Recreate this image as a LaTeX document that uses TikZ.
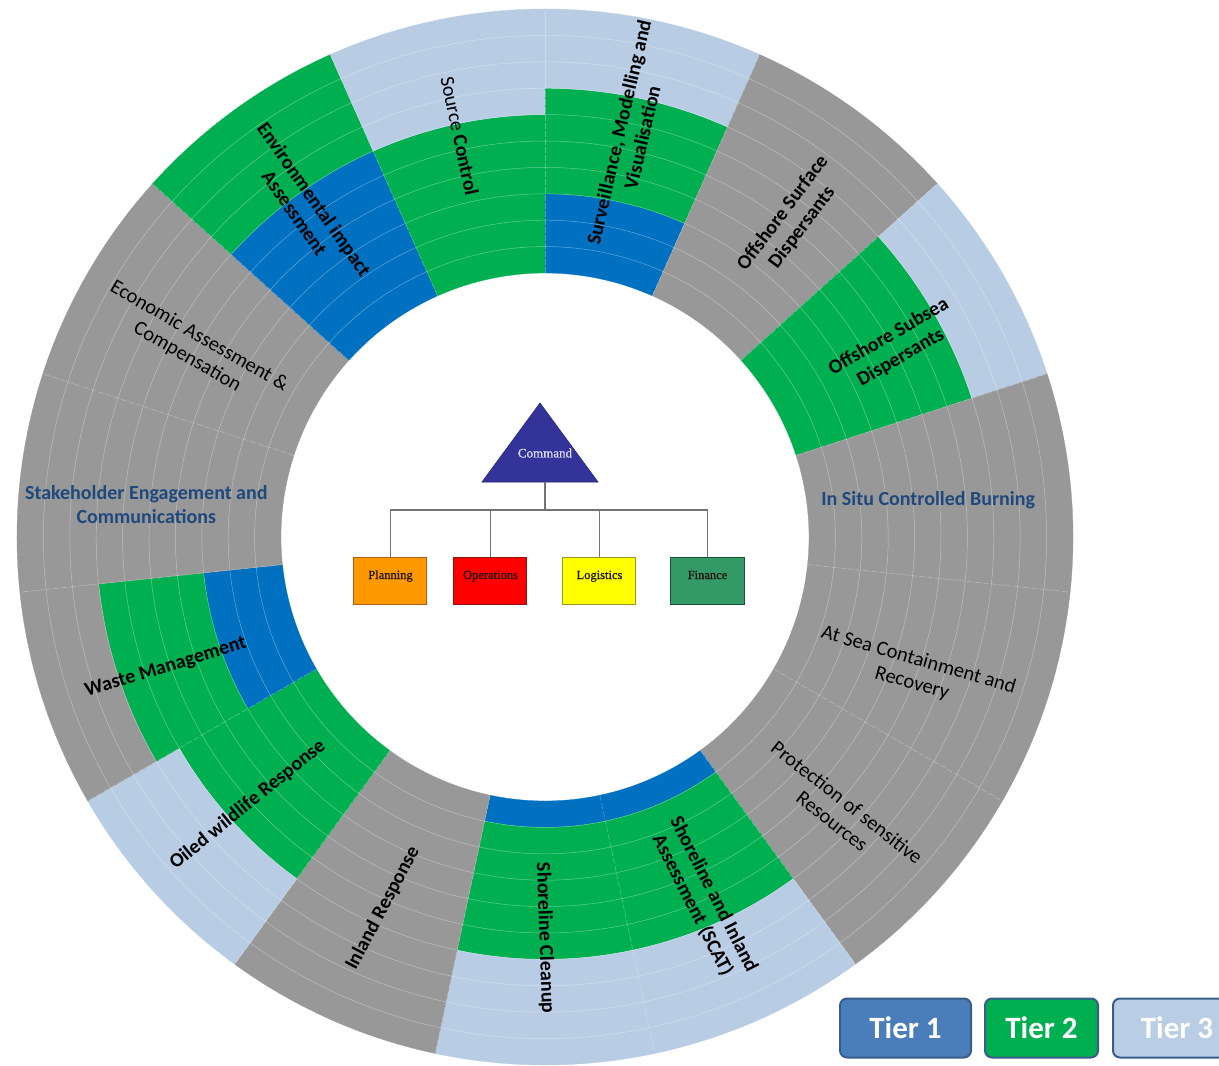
\documentclass[tikz,border=0pt]{standalone}
\usepackage{fontspec}
\setmainfont{Carlito}
\newfontfamily\orgfont[FakeBold=0.8]{Liberation Serif}
\usetikzlibrary{calc}
\definecolor{tOne}{HTML}{0070C0}
\definecolor{tTwo}{HTML}{00B050}
\definecolor{tThree}{HTML}{B8CCE4}
\definecolor{tNone}{HTML}{989898}
\definecolor{navyt}{HTML}{1F497D}
\definecolor{cmdblue}{HTML}{333399}
\definecolor{btnOne}{HTML}{4A7EBB}
\definecolor{btnEdge}{HTML}{385D8A}
\definecolor{btnThree}{HTML}{B9CDE5}
\newcommand\wseg[5]{%
  \pgfmathsetmacro\rIn{264+26.4*#3}%
  \pgfmathsetmacro\rOut{264+26.4*#4}%
  \filldraw[fill=#5,draw=#5,line width=0.3pt] (#1:\rIn pt) arc[start angle=#1,end angle=#2,radius=\rIn pt]
    -- (#2:\rOut pt) arc[start angle=#2,end angle=#1,radius=\rOut pt] -- cycle;}
\tikzset{
  lbl/.style={font=\fontsize{20}{24}\selectfont\bfseries,align=center,text=black,inner sep=0pt},
  lblr/.style={font=\fontsize{20.5}{24}\selectfont,align=center,text=black,inner sep=0pt},
  orgbox/.style={draw,line width=1pt,minimum width=73pt,minimum height=47pt,inner sep=0pt,
    font=\orgfont\fontsize{12.5}{14}\selectfont,text height=8pt,text depth=11pt,text=black!85!brown},
  tree/.style={draw=black!55,line width=1.1pt},
  tierbtn/.style={rounded corners=7pt,line width=2pt,draw=btnEdge,text=white,
    font=\fontsize{31}{33}\selectfont\bfseries,minimum height=59pt,inner sep=0pt}
}
\begin{document}
\begin{tikzpicture}[x=1pt,y=1pt]
\useasboundingbox (-545,-529) rectangle (674,537);
% ---- wheel ----
% Surveillance 66-90
\wseg{66}{90}{0}{3}{tOne}\wseg{66}{90}{3}{7}{tTwo}\wseg{66}{90}{7}{10}{tThree}
% Offshore Surface 42-66
\wseg{42}{66}{0}{10}{tNone}
% Offshore Subsea 18-42
\wseg{18}{42}{0}{7}{tTwo}\wseg{18}{42}{7}{10}{tThree}
% In Situ, At Sea, Protection
\wseg{-54}{18}{0}{10}{tNone}
% SCAT and Shoreline Cleanup
\wseg{-102}{-54}{0}{1}{tOne}\wseg{-102}{-54}{1}{6}{tTwo}\wseg{-102}{-54}{6}{10}{tThree}
% Inland
\wseg{-126}{-102}{0}{10}{tNone}
% Oiled wildlife
\wseg{-150}{-126}{0}{6}{tTwo}\wseg{-150}{-126}{6}{10}{tThree}
% Waste
\wseg{186}{210}{0}{3}{tOne}\wseg{186}{210}{3}{7}{tTwo}\wseg{186}{210}{7}{10}{tNone}
% Stakeholder, Economic
\wseg{138}{186}{0}{10}{tNone}
% Environmental impact
\wseg{114}{138}{0}{6}{tOne}\wseg{114}{138}{6}{10}{tTwo}
% Source control
\wseg{90}{114}{0}{6}{tTwo}\wseg{90}{114}{6}{10}{tThree}
% ring lines
\foreach \k [evaluate=\k as \rr using 264+26.4*\k] in {1,...,9}
  \draw[white,opacity=0.38,line width=0.5pt] (0,0) circle[radius=\rr pt];
% sector lines
\foreach \a in {-174,-150,...,162}
  \draw[white,opacity=0.3,line width=0.6pt,dash pattern=on 6pt off 2pt] (\a:264pt) -- (\a:528pt);
% ---- labels ----
\node[lbl,rotate=-78] (src) at (102:410pt) {{\mdseries Source} Control};
\node[lbl,rotate=77] (surv) at (78:411pt) {Surveillance, Modelling and\\Visualisation};
\node[lbl,rotate=53] (osd) at (52:402pt) {Offshore Surface\\Dispersants};
\node[lbl,rotate=30] (oss) at (28.5:398pt) {Offshore Subsea\\Dispersants};
\node[lbl,text=navyt] (isb) at (5.5:385pt) {In Situ Controlled Burning};
\node[lblr,rotate=-16] (asc) at (-20:394pt) {At Sea Containment and\\Recovery};
\node[lblr,rotate=-38] (prot) at (-43:403pt) {Protection of sensitive\\Resources};
\node[lbl,rotate=-63] (scat) at (-66.5:396pt) {Shoreline and Inland\\Assessment (SCAT)};
\node[lbl,rotate=-88] (clean) at (-90:401pt) {Shoreline Cleanup};
\node[lbl,rotate=62] (inland) at (-113.6:405pt) {Inland Response};
\node[lbl,rotate=39] (oiled) at (-138:400pt) {Oiled wildlife Response};
\node[lbl,rotate=17] (waste) at (-161:401pt) {Waste Management};
\node[lbl,text=navyt] (stake) at (175.4:400pt) {Stakeholder Engagement and\\Communications};
\node[lblr,rotate=-30] (econ) at (151.6:400pt) {Economic Assessment \&\\Compensation};
\node[lbl,rotate=-55] (env) at (126:409pt) {Environmental impact\\Assessment};
% ---- org chart ----
\coordinate (apex) at (-5,134);
\coordinate (bl) at (-63,55);
\coordinate (br) at (53,55);
\filldraw[fill=cmdblue,draw=cmdblue!80!black,line width=0.6pt] (apex) -- (bl) -- (br) -- cycle;
\node[font=\orgfont\fontsize{13}{14}\selectfont,text=white!88!blue] (cmd) at (0,84) {Command};
\coordinate (cmdb) at (0,55);
\coordinate (hub) at (0,27);
\node[orgbox,fill={rgb,255:red,255;green,153;blue,0},draw={rgb,255:red,170;green,95;blue,20}] (plan) at (-154.5,-43.5) {Planning};
\node[orgbox,fill={rgb,255:red,255;green,0;blue,0},draw={rgb,255:red,140;green,20;blue,20}] (ops) at (-54.5,-43.5) {Operations};
\node[orgbox,fill={rgb,255:red,255;green,255;blue,0},draw={rgb,255:red,150;green,150;blue,40}] (logi) at (54.5,-43.5) {Logistics};
\node[orgbox,fill={rgb,255:red,51;green,153;blue,102},draw={rgb,255:red,30;green,80;blue,55}] (fin) at (162.5,-43.5) {Finance};
\draw[tree] (cmdb) -- (hub);
\draw[tree] (plan.north) |- (hub) -| (fin.north);
\draw[tree] (ops.north) -- (ops.north |- hub);
\draw[tree] (logi.north) -- (logi.north |- hub);
% ---- tier buttons ----
\node[tierbtn,fill=btnOne,minimum width=131pt] (t1) at (360.5,-491) {Tier 1};
\node[tierbtn,fill=tTwo,minimum width=113pt] (t2) at (496.5,-491) {Tier 2};
\begin{scope}
\clip (-545,-529) rectangle (674,537);
\node[tierbtn,fill=btnThree,minimum width=128pt] (t3) at (632,-491) {Tier 3};
\end{scope}
\end{tikzpicture}
\end{document}
